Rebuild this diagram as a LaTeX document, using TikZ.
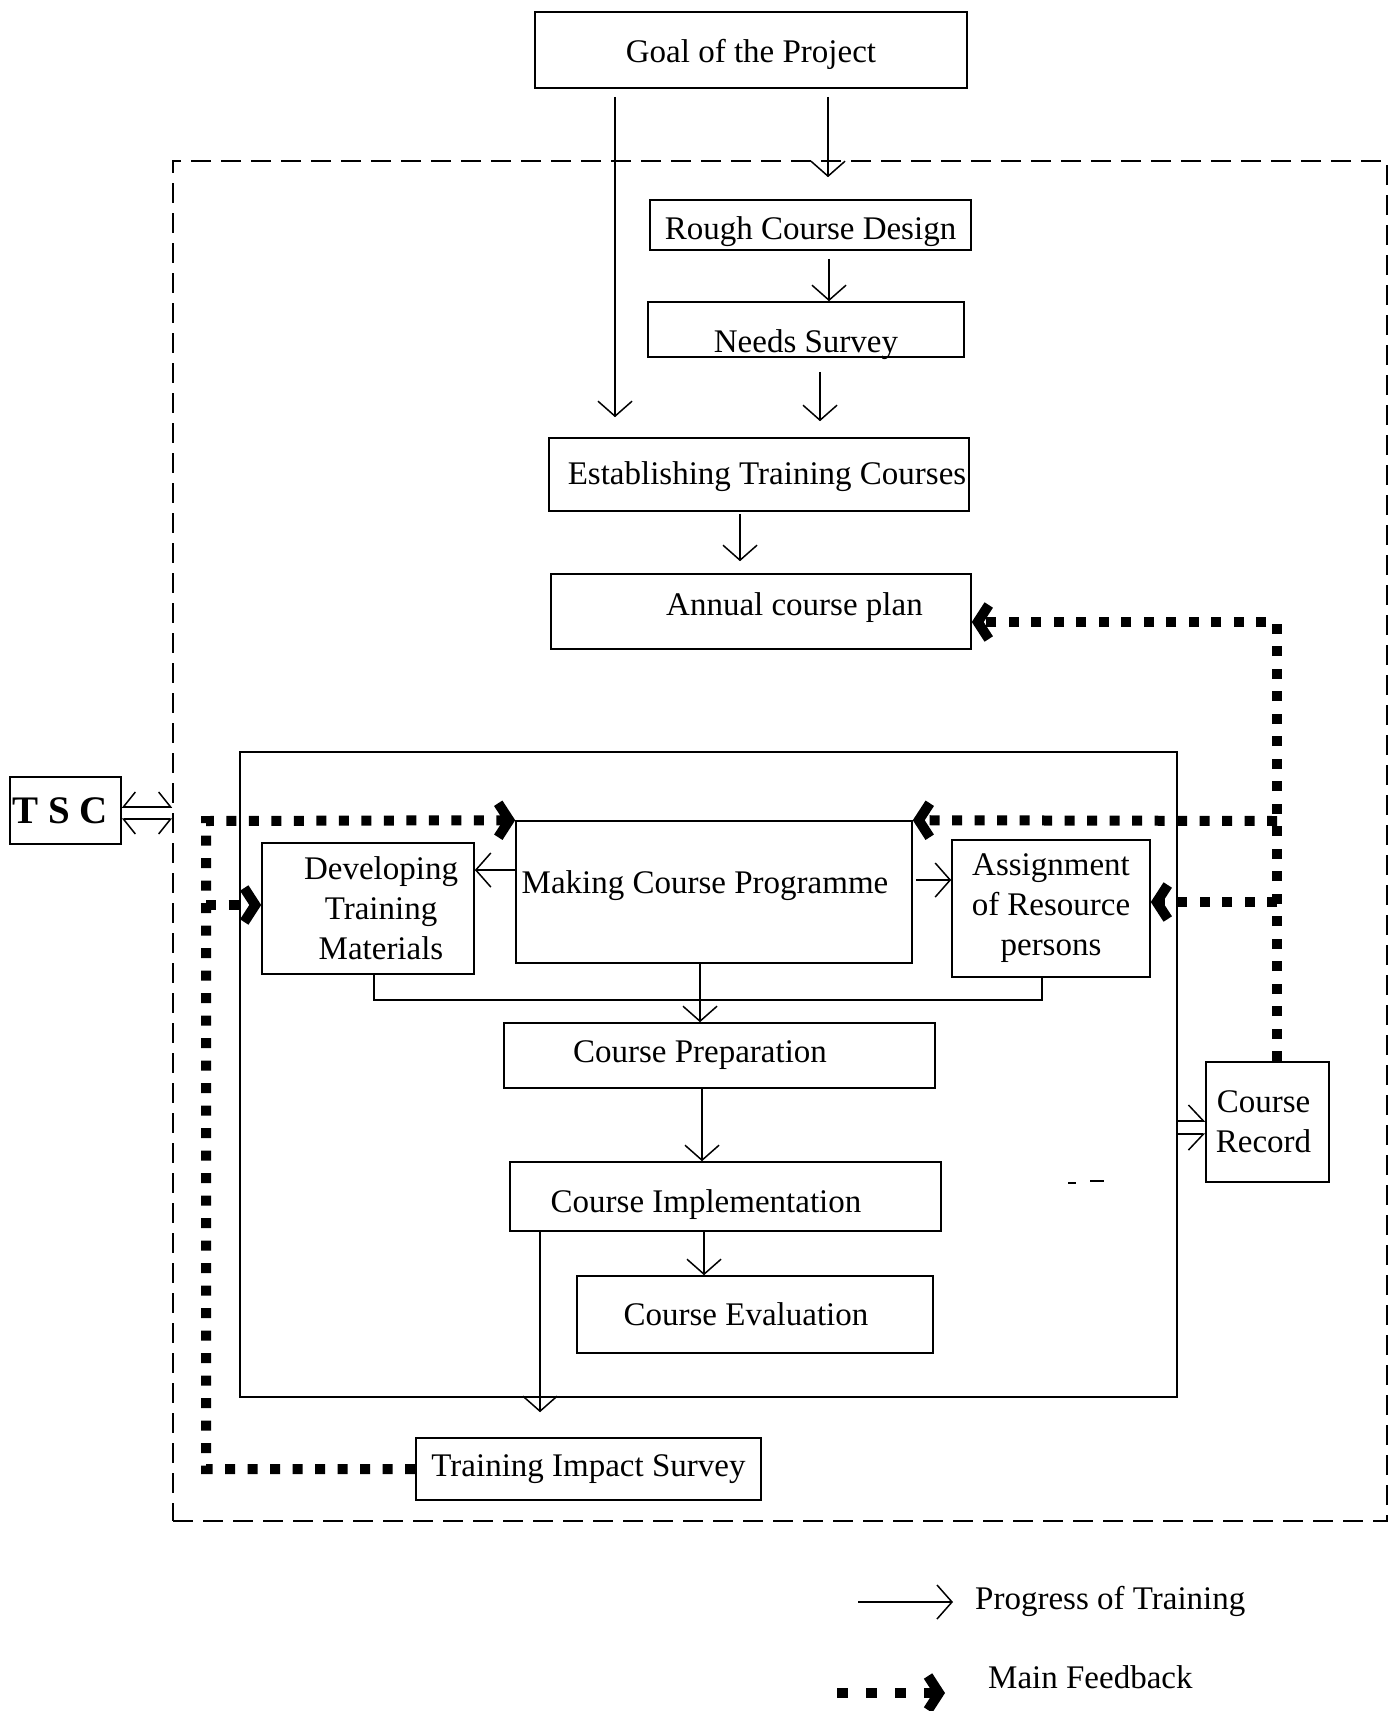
\documentclass[tikz,border=0pt]{standalone}
\usepackage{fontspec}
\setmainfont{Liberation Serif}
\usetikzlibrary{arrows.meta}
\newcommand{\shiftv}[2]{\raisebox{#1}[\height][\depth]{#2}}
\begin{document}
\begin{tikzpicture}[x=1pt,y=-1pt,
  box/.style={draw, line width=1.6pt, inner sep=0pt, align=center, font=\fontsize{33}{40}\selectfont},
  arr/.style={line width=1.5pt, -{Straight Barb[length=15pt,width=34pt]}},
  ln/.style={line width=1.5pt},
  fb/.style={line width=10pt, dash pattern=on 10pt off 12.5pt},
  fbhead/.style={-{Straight Barb[length=11pt,width=34pt,line width=10pt]}},
  fbtip/.style={fb, fbhead},
  hb/.style={line width=1.5pt},
]
\useasboundingbox (0,0) rectangle (1397,1711);

% frames
\node[draw, dash pattern=on 20pt off 10pt, line width=1.6pt, minimum width=1214pt, minimum height=1360pt, inner sep=0pt] (outer) at (780,841) {};
\node[draw, line width=1.6pt, minimum width=937pt, minimum height=645pt, inner sep=0pt] (inner) at (708.5,1074.5) {};

% boxes
\node[box, minimum width=432pt, minimum height=76pt] (goal) at (751,50) {\shiftv{-4.5pt}{Goal of the Project}};
\node[box, minimum width=321pt, minimum height=50pt] (rough) at (810.5,225) {\shiftv{-6.5pt}{Rough Course Design}};
\node[box, minimum width=316pt, minimum height=55pt] (needs) at (806,329.5) {\shiftv{-15pt}{Needs Survey}};
\node[box, minimum width=420pt, minimum height=73pt] (est) at (759,474.5) {\shiftv{-2pt}{\hspace*{16pt}Establishing Training Courses}};
\node[box, minimum width=420pt, minimum height=75pt] (plan) at (761,611.5) {\shiftv{3.5pt}{\hspace*{67pt}Annual course plan}};
\node[box, minimum width=396pt, minimum height=142pt] (mcp) at (714,892) {\shiftv{6.5pt}{Making Course Programme\hspace*{18pt}}};
\node[box, minimum width=212pt, minimum height=131pt] (dev) at (368,908.5) {\hspace*{26pt}Developing\\\hspace*{26pt}Training\\\hspace*{26pt}Materials};
\node[box, minimum width=198pt, minimum height=137pt] (asg) at (1051,908.5) {Assignment\\of Resource\\persons};
\node[box, minimum width=431pt, minimum height=65pt] (prep) at (719.5,1055.5) {Course Preparation\hspace*{39pt}};
\node[box, minimum width=431pt, minimum height=69pt] (impl) at (725.5,1196.5) {\shiftv{-8.5pt}{Course Implementation\hspace*{39pt}}};
\node[box, minimum width=356pt, minimum height=77pt] (eval) at (755,1314.5) {Course Evaluation\hspace*{18pt}};
\node[box, minimum width=345pt, minimum height=62pt] (tis) at (588.5,1469) {Training Impact Survey};
\node[box, minimum width=123pt, minimum height=120pt] (rec) at (1267.5,1122) {Course\hspace*{8pt}\\Record\hspace*{8pt}};
\node[box, minimum width=111pt, minimum height=67pt, font=\fontsize{39}{44}\selectfont\bfseries] (tsc) at (65.5,810.5) {T S C\hspace*{11pt}};

% progress arrows
\draw[arr, shorten <=8pt, shorten >=20pt] ([xshift=-136pt]goal.south) -- ([xshift=-144pt]est.north);
\draw[arr, shorten <=8pt, shorten >=22pt] ([xshift=77pt]goal.south) -- ([xshift=17.5pt]rough.north);
\draw[arr, shorten <=8pt] ([xshift=18.5pt]rough.south) -- ([xshift=23pt]needs.north);
\draw[arr, shorten <=14pt, shorten >=16pt] ([xshift=14pt]needs.south) -- ([xshift=61pt]est.north);
\draw[arr, shorten <=2pt, shorten >=12pt] ([xshift=-19pt]est.south) -- ([xshift=-21pt]plan.north);
\draw[arr] ([yshift=22pt]mcp.west) -- ([yshift=38.5pt]dev.east);
\draw[arr, shorten <=3pt] ([yshift=12pt]mcp.east) -- ([yshift=28.5pt]asg.east -| asg.west);
\draw[arr] ([xshift=-14pt]mcp.south) -- ([xshift=-19.5pt]prep.north);
\draw[ln] ([xshift=6pt]dev.south) -- ++(0,25) -| ([xshift=-9pt]asg.south);
\draw[arr] ([xshift=-17.5pt]prep.south) -- ([xshift=-23.5pt]impl.north);
\draw[arr] ([xshift=-21.5pt]impl.south) -- ([xshift=-51pt]eval.north);
\draw[arr, shorten >=25pt] ([xshift=-185.5pt]impl.south) -- ([xshift=-48.5pt]tis.north);

% double arrows
\draw[hb, -{Straight Barb[harpoon,length=15pt,width=32pt]}] ([yshift=-46.5pt]inner.east) -- ([yshift=1pt]rec.west);
\draw[hb, -{Straight Barb[harpoon,swap,length=15pt,width=32pt]}] ([yshift=-59.5pt]inner.east) -- ([yshift=-12pt]rec.west);
\draw[hb, {Straight Barb[harpoon,swap,length=12pt,width=30pt]}-{Straight Barb[harpoon,length=12pt,width=30pt]}] ([yshift=3.5pt]tsc.east) -- ([yshift=34pt]outer.west);
\draw[hb, {Straight Barb[harpoon,length=12pt,width=30pt]}-{Straight Barb[harpoon,swap,length=12pt,width=30pt]}] ([yshift=-8.5pt]tsc.east) -- ([yshift=22pt]outer.west);

% feedback
\coordinate (j1) at (1277,821);
\coordinate (j2) at (1277,902);
\coordinate (jl) at (206,821);
\coordinate (j3) at (206,905);
\draw[fbtip] ([xshift=9.5pt]rec.north) |- ([yshift=-10.5pt]plan.east);
\draw[fbtip] (j1) -- (mcp.north east);
\draw[fbtip] (j2) -- ([yshift=6.5pt]asg.east);
\draw[fbtip] (tis.west) -| (jl) -- (mcp.north west);
\draw[fbtip] (j3) -- ([yshift=3.5pt]dev.west);

% stray marks
\draw[line width=2pt] (1068,1183) -- (1076,1183);
\draw[line width=2.5pt] (1090,1181) -- (1104,1181);

% legend
\node[anchor=west, inner sep=0pt, font=\fontsize{33}{40}\selectfont] (lg1) at (975,1601) {Progress of Training};
\node[anchor=west, inner sep=0pt, font=\fontsize{33}{40}\selectfont] (lg2) at (988,1677) {Main Feedback};
\coordinate (lg1a) at (858,1602);
\coordinate (lg2a) at (837,1693);
\draw[arr] (lg1a) -- ([xshift=-22pt,yshift=-1pt]lg1.west);
\draw[fb, dash pattern=on 11pt off 18pt, fbhead] (lg2a) -- ([xshift=-43pt,yshift=-16pt]lg2.west);
\end{tikzpicture}
\end{document}
